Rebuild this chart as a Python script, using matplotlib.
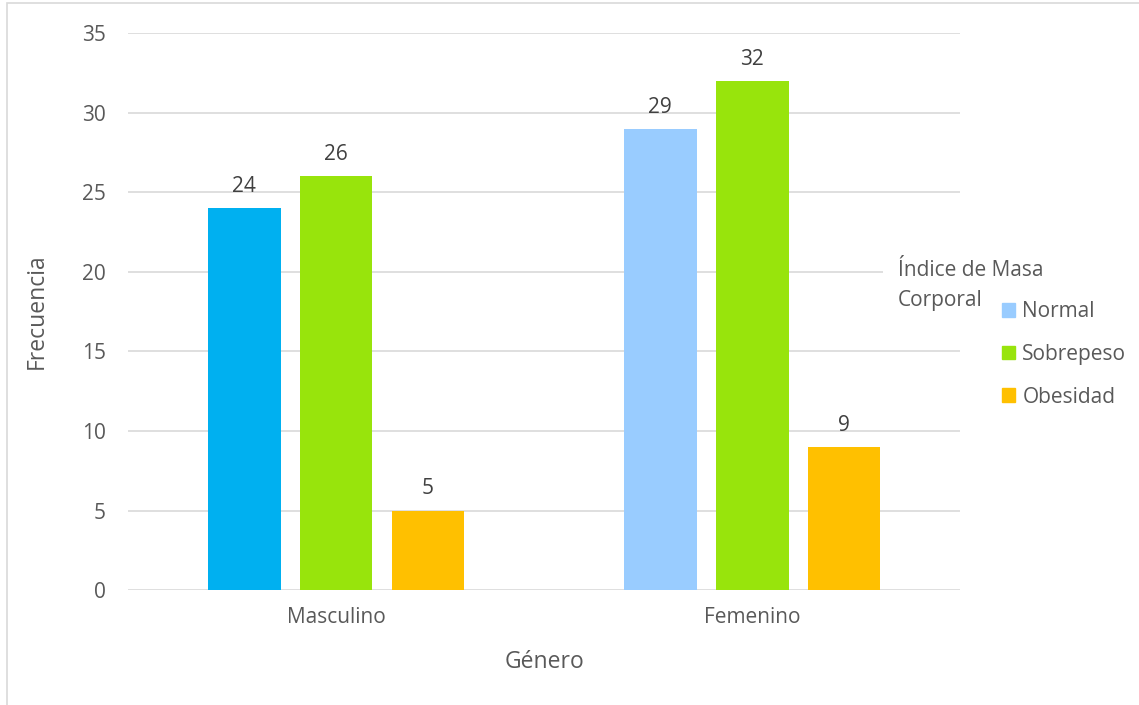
import numpy as np
import matplotlib.pyplot as plt
from matplotlib.patches import Patch, Rectangle

plt.rcParams['font.family'] = ['Open Sans', 'DejaVu Sans']

generos = ['Masculino', 'Femenino']
series = ['Normal', 'Sobrepeso', 'Obesidad']
valores = {
    'Normal': [24, 29],
    'Sobrepeso': [26, 32],
    'Obesidad': [5, 9],
}
# Masculino "Normal" bar is painted in a different blue than the legend
colores = {
    'Normal': ['#00B0F0', '#99CCFF'],
    'Sobrepeso': ['#98E40C', '#98E40C'],
    'Obesidad': ['#FFC000', '#FFC000'],
}
titulo_leyenda = ['Índice de Masa', 'Corporal']
color_texto = '#595959'

fig = plt.figure(figsize=(11.39, 7.05), dpi=100)
ax = fig.add_axes([0.1124, 0.163, 0.7306, 0.79])

x = np.arange(len(generos))
ancho = 0.175
paso = 0.221
for i, s in enumerate(series):
    pos = x + (i - 1) * paso
    barras = ax.bar(pos, valores[s], width=ancho, color=colores[s], zorder=3)
    for b, v in zip(barras, valores[s]):
        ax.annotate(str(v), (b.get_x() + b.get_width() / 2, v),
                    xytext=(0, 8), textcoords='offset points',
                    ha='center', va='bottom', fontsize=15, color='#404040')

ax.set_xlim(-0.5, 1.5)
ax.set_ylim(0, 35)
ax.set_yticks(range(0, 36, 5))
ax.set_xticks(x)
ax.set_xticklabels(generos)
ax.grid(axis='y', color='#D9D9D9', linewidth=1.2, zorder=0)
ax.set_axisbelow(True)
for sp in ax.spines.values():
    sp.set_visible(False)
ax.tick_params(axis='both', length=0, labelsize=15, labelcolor=color_texto)
ax.tick_params(axis='y', pad=16)
ax.tick_params(axis='x', pad=12)
ax.set_ylabel('Frecuencia', fontsize=16.5, color=color_texto, labelpad=24)
ax.set_xlabel('Género', fontsize=16.5, color=color_texto, labelpad=16)

# legend (title sits to the left of the entries)
handles = [Patch(color=colores[s][1], label=s) for s in series]
leg = fig.legend(handles=handles, loc='upper left',
                 bbox_to_anchor=(0.872, 0.585), frameon=False,
                 fontsize=15, handlelength=0.65, handleheight=0.65,
                 handletextpad=0.35, labelspacing=1.05, borderaxespad=0)
for t in leg.get_texts():
    t.set_color(color_texto)
# white box behind the title hides the gridline, as in the original
fig.text(0.788, 0.617, titulo_leyenda[0], fontsize=15,
         color=color_texto, ha='left', va='center',
         bbox=dict(facecolor='white', edgecolor='none',
                   boxstyle='square,pad=0.7'))
fig.text(0.788, 0.574, titulo_leyenda[1], fontsize=15,
         color=color_texto, ha='left', va='center')

# chart area border
fig.patches.append(Rectangle((0.006, -0.1), 1.2, 1.096,
                             transform=fig.transFigure, fill=False,
                             edgecolor='#D9D9D9', linewidth=1.2))

fig.savefig('out.png', dpi=100)
